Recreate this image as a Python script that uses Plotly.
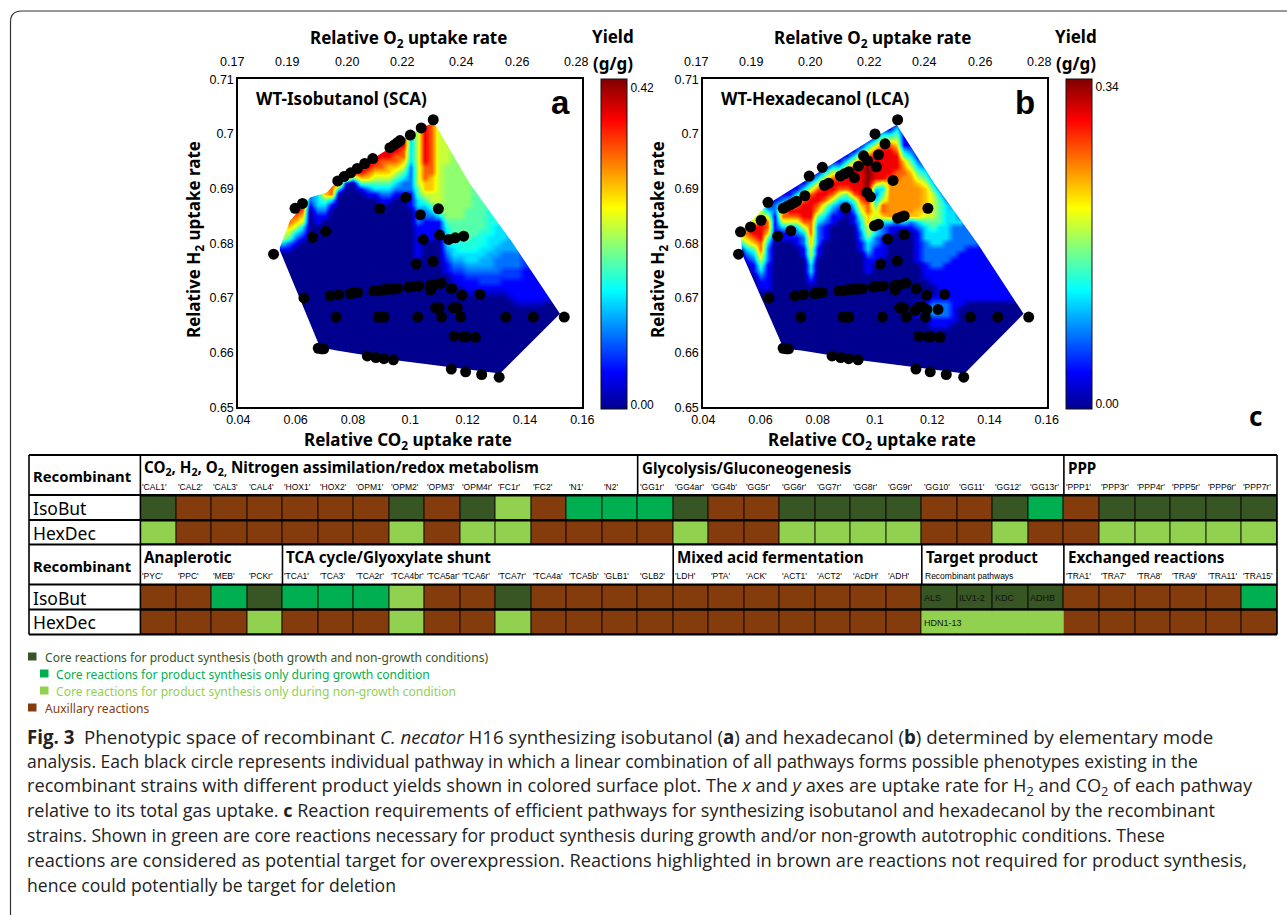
import plotly.graph_objects as go

W, H = 1287, 915
# ---------- data: pathway points (relative CO2, relative H2 uptake) ----------
COMMON_X = [.0523,.0629,.0720,.0750,.0741,.0679,.0691,.0698,.0790,.0801,.0816,.0873,.0888,.0906,.0923,.0941,.0955,
            .0994,.1010,.1029,.1069,.1086,.1108,.1071,.1144,.1180,.1243,.1026,.1109,.1176,.1333,.1429,.1537,.0888,.0900,.0909,
            .1153,.1186,.1194,.1227,.0850,.0880,.0908,.0941,.1143,.1193,.1249,.1310]
COMMON_Y = [.6780,.6700,.6704,.6706,.6665,.6608,.6607,.6607,.6708,.6709,.6710,.6713,.6713,.6715,.6716,.6716,.6717,
            .6720,.6721,.6722,.6723,.6725,.6727,.6715,.6717,.6705,.6707,.6665,.6665,.6665,.6665,.6665,.6665,.6665,.6665,.6665,
            .6630,.6629,.6629,.6628,.6594,.6591,.6589,.6587,.6570,.6565,.6560,.6555]
A_X = [.0598,.0624,.0659,.0705,.0747,.0769,.0792,.0815,.0841,.0869,.0929,.0944,.0955,.0964,.1000,.1038,.1080,
       .0894,.0984,.1035,.1098,.1045,.1102,.1134,.1157,.1186,.1020,.1079,.1088,.1101,.1150,.1164]
A_Y = [.6864,.6873,.6811,.6822,.6914,.6922,.6929,.6937,.6946,.6955,.6975,.6980,.6984,.6988,.6998,.7011,.7026,
       .6864,.6884,.6852,.6863,.6807,.6815,.6807,.6810,.6813,.6762,.6767,.6682,.6682,.6682,.6682]
B_X = [.0530,.0565,.0602,.0626,.0660,.0706,.0679,.0693,.0705,.0716,.0726,.0755,.0770,.0816,.0823,.0838,.0879,.0893,.0909,.0928,
       .0942,.0960,.0974,.1005,.1012,.1035,.1000,.1079,.0972,.0984,.1063,.0897,.1185,.1079,.1091,.1102,.0998,.1012,.1102,.1044,
       .1019,.1078,.1086,.1100,.1141,.1152,.1164,.1181,.1220]
B_Y = [.6821,.6830,.6842,.6875,.6813,.6823,.6864,.6868,.6871,.6874,.6877,.6887,.6923,.6939,.6906,.6910,.6923,.6927,.6931,.6920,
       .6941,.6960,.6951,.6940,.6962,.6982,.7000,.7026,.6893,.6885,.6915,.6865,.6864,.6846,.6848,.6850,.6832,.6835,.6816,.6808,
       .6762,.6768,.6682,.6682,.6677,.6683,.6684,.6679,.6679]
# outlines of the surfaces (clockwise from the left)
HULL_A_X = [.0545,.0580,.0624,.0650,.0708,.0747,.1000,.1038,.1083,.1208,.1359,.1522,.1313,.1144,.0964,.0743,.0685,.0545]
HULL_A_Y = [.6793,.6841,.6869,.6884,.6893,.6914,.6998,.7011,.7021,.6909,.6799,.6671,.6562,.6573,.6585,.6604,.6610,.6787]
HULL_B_X = [.0530,.0626,.1000,.1076,.1208,.1359,.1519,.1313,.1144,.0964,.0743,.0681,.0536]
HULL_B_Y = [.6821,.6872,.6994,.7017,.6909,.6799,.6671,.6562,.6573,.6585,.6604,.6607,.6780]

# surface: yield level 0-9 (letters are half steps), read per column (x from .0525, step .0025),
# from y=.703 down (step .001); the rest of each column is 0
HALF_STEPS = {"e": .5, "d": 1.5, "c": 2.5, "b": 3.5, "a": 4.5, "f": 6.5}
SURF_X = [0.0525 + 0.0025 * i for i in range(42)]
SURF_Y = [round(0.703 - 0.001 * j, 3) for j in range(49)]
LEVELS_A = ["555 55555 55555 55555 55555 310","555 55555 55555 55555 55555 310","777 77777 77777 77777 77654 210",
"888 88888 88888 88888 76532 10","888 88888 88888 88887 65321","222 22222 22222 22210","333 33333 33333 33332 11",
"666 66666 66666 66432 1","777 77777 77777 77310","888 88888 88888 30","888 88888 88881","888 88888 88840",
"888 88888 88864 10","888 88888 88764 21","888 88888 87654 31","888 88888 77654 32110","888 88888 76654 3210",
"888 88887 76543 210","888 88877 65432 210","333 33333 32222 21110","555 55555 55555 44332 22111 1110",
"888 88888 87776 65432 21111","777 77777 77766 65543 21111","555 55555 55555 555aa 31110",
"555 55555 5aaaa aaaaa a4b33 3c2d1 1","aaa aaaaa aaaaa aaaaa a4444 b33c2 d1e","aaa aaaaa aaaaa aaaaa a4444 bb3c2 d11e",
"aaa aaaaa aaaaa aaaa4 44444 bb33c 2d11e","444 44444 44444 44444 4444b bb33c 2d11e","444 44444 44444 44444 444bb b33cc 2dd1e",
"444 44444 44444 4444b bbbb3 33ccc 2dd1e","bbb bbbbb bbbbb bbbbb bb333 3cc22 2dd1e","bbb bbbbb bbbbb bbbbb b3333 cc222 dd11e",
"333 33333 33333 33333 33ccc cc222 dd111 e","ccc ccccc ccccc ccccc ccccc cc222 dd111 1e","222 22222 22222 22222 22222 22ddd 11111 1e",
"ddd ddddd ddddd ddddd ddddd ddddd 11111 1e","ddd ddddd ddddd ddddd ddddd ddddd 11111 1e","ddd ddddd ddddd ddddd ddddd ddddd 11111 1",
"111 11111 11111 11111 11111 11111 11111 1","",""]
LEVELS_B = ["777 77777 77777 77777 77775 31","666 66666 66666 66666 66676 53210","555 55555 55555 55555 55887 64321 1",
"555 55555 55555 55555 58888 77654 3211","111 11111 11111 11113 57764 32221 11110","111 11111 11111 11122 11111",
"111 11111 11111 11246 75311","111 11111 11111 11368 75311","111 11111 11111 13578 75321 1","111 11111 11111 35788 87532 211",
"111 11111 11113 57888 87776 65543 321","111 11111 11135 78876 43222 211","111 11111 11357 88754 32111","111 11111 13578 87532 11",
"111 11111 13578 75321 1","111 11111 35788 74310","111 11113 57888 87432 11","111 11135 78888 88765 43322 11",
"111 11357 89999 98877 66554 33211 1","111 13578 88886 32345 54332 2111","111 35788 88885 34577 63221 111","111 35788 8887f fffff f311",
"113 45678 8877f fffff f21","111 11134 6f7ff fffff f31","111 11123 456ff fffff 621",
"111 11111 23456 ffff6 63211 11110 00000 01110","111 11111 12345 66666 54333 22221 11000 01210",
"111 11111 11123 45555 54433 32222 11100 12321 1","111 11111 11111 23444 44333 32222 11111 12221 1",
"111 11111 11111 11233 33333 22221 11111 12221 1","111 11111 11111 11123 33222 22211 11111 11111",
"111 11111 11111 11111 23222 22111 11111 11","111 11111 11111 11111 11222 21111 11111 1","111 11111 11111 11111 11122 21111 11111 1",
"111 11111 11111 11111 11111 11111 11111 1","111 11111 11111 11111 11111 11111 11111 1","111 11111 11111 11111 11111 11111 11111 1",
"111 11111 11111 11111 11111 11111 11111 1","111 11111 11111 11111 11111 11111 11111 1","111 11111 11111 11111 11111 11111 11111","",""]

XTICKS = [.04,.06,.08,.10,.12,.14,.16]; XTEXT = ["0.04","0.06","0.08","0.1","0.12","0.14","0.16"]
YTICKS = [.65,.66,.67,.68,.69,.70,.71]; YTEXT = ["0.65","0.66","0.67","0.68","0.69","0.7","0.71"]
O2_TICKS = ["0.17","0.19","0.20","0.22","0.24","0.26","0.28"]
ZMAX_A, ZMAX_B = .432, .348
BAR_A_VALS = [.006,.42]; BAR_A_TEXT = ["0.00","0.42"]; BAR_A_MARKS = [.087,.174,.261,.348]
BAR_B_VALS = [.005,.34]; BAR_B_TEXT = ["0.00","0.34"]; BAR_B_MARKS = [.0563,.1126,.169,.225,.2815]

# table: D core both, G core growth, L core non-growth, B auxiliary
NAMES_1 = ["CAL1","CAL2","CAL3","CAL4","HOX1","HOX2","OPM1","OPM2","OPM3","OPM4r","FC1r","FC2","N1","N2","GG1r","GG4ar","GG4b","GG5r",
           "GG6r","GG7r","GG8r","GG9r","GG10","GG11","GG12","GG13r","PPP1","PPP3r","PPP4r","PPP5r","PPP6r","PPP7r"]
ISO_1 = "DBBBBBBDBDLBGGGDBBDDDDBBDGBDDDDD"
HEX_1 = "LBBBBBBLBLLBBBBLBBLLLLBBLBBLLLLL"
NAMES_2 = ["PYC","PPC","MEB","PCKr","TCA1","TCA3","TCA2r","TCA4br","TCA5ar","TCA6r","TCA7r","TCA4a","TCA5b","GLB1","GLB2",
           "LDH","PTA","ACK","ACT1","ACT2","AcDH","ADH",None,None,None,None,"TRA1","TRA7","TRA8","TRA9","TRA11","TRA15"]
ISO_2 = "BBGDGGGLBBDBBBBBBBBBBBDDDDBBBBBG"
HEX_2 = "BBBLBBBLBBLBBBBBBBBBBBLLLLBBBBBB"
CELL_COLOURS = {"B": "#843C0C", "D": "#375623", "G": "#00B050", "L": "#92D050"}
CELL_CODE = {"B": 0, "D": 1, "G": 2, "L": 3}
GROUPS_1 = [(0,"CO<sub>2</sub>, H<sub>2</sub>, O<sub>2,</sub> Nitrogen assimilation/redox metabolism"),(14,"Glycolysis/Gluconeogenesis"),(26,"PPP")]
GROUPS_2 = [(0,"Anaplerotic"),(4,"TCA cycle/Glyoxylate shunt"),(15,"Mixed acid fermentation"),(22,"Target product"),(26,"Exchanged reactions")]
TARGET_LABELS = ["ALS","ILV1-2","KDC","ADHB"]
LEGEND = [("Core reactions for product synthesis (both growth and non-growth conditions)","D",33,45,657),
          ("Core reactions for product synthesis only during growth condition","G",45,56,674),
          ("Core reactions for product synthesis only during non-growth condition","L",45,56,691),
          ("Auxillary reactions","B",33,45,708)]
CAPTION = [
 "<b>Fig. 3</b>  Phenotypic space of recombinant <i>C. necator</i> H16 synthesizing isobutanol (<b>a</b>) and hexadecanol (<b>b</b>) determined by elementary mode",
 "analysis. Each black circle represents individual pathway in which a linear combination of all pathways forms possible phenotypes existing in the",
 "recombinant strains with different product yields shown in colored surface plot. The <i>x</i> and <i>y</i> axes are uptake rate for H<sub>2</sub> and CO<sub>2</sub> of each pathway",
 "relative to its total gas uptake. <b>c</b> Reaction requirements of efficient pathways for synthesizing isobutanol and hexadecanol by the recombinant",
 "strains. Shown in green are core reactions necessary for product synthesis during growth and/or non-growth autotrophic conditions. These",
 "reactions are considered as potential target for overexpression. Reactions highlighted in brown are reactions not required for product synthesis,",
 "hence could potentially be target for deletion"]
CAPTION_SIZES = [18.7, 17.5, 18.2, 18.0, 17.6, 18.2, 17.6]
CAPTION_ROWS = [736, 761, 786, 810, 835, 860, 885]

# ---------- helpers ----------
HEAD = "Noto Sans"; ARIAL = "Liberation Sans"; NARROW = "Liberation Sans Narrow, Liberation Sans"
JET = [[0,"rgb(0,0,143)"],[.11,"rgb(0,0,255)"],[.36,"rgb(0,255,255)"],[.61,"rgb(255,255,0)"],[.875,"rgb(255,0,0)"],[1,"rgb(128,0,0)"]]
ann, shapes = [], []
def px(x): return x / W
def py(y): return 1 - y / H
def text(x, y, s, size, family=HEAD, color="black", anchor="left", rot=0):
    ann.append(dict(text=s, x=px(x), y=py(y), xref="paper", yref="paper", showarrow=False, xanchor=anchor, yanchor="middle",
                    font=dict(family=family, size=size, color=color), textangle=rot, borderpad=0, borderwidth=0, align="left"))
def line(x0, y0, x1, y1, w=1.6, color="black"):
    shapes.append(dict(type="line", xref="paper", yref="paper", x0=px(x0), y0=py(y0), x1=px(x1), y1=py(y1), line=dict(color=color, width=w)))
def rect(x0, y0, x1, y1, color, layer="above"):
    shapes.append(dict(type="rect", xref="paper", yref="paper", x0=px(x0), y0=py(y0), x1=px(x1), y1=py(y1), fillcolor=color, line_width=0, layer=layer))
def level(ch): return HALF_STEPS[ch] if ch in HALF_STEPS else int(ch)
def grid(levels, zmax):
    cols = [c.replace(" ", "").ljust(49, "0") for c in levels]
    return [[level(c[j]) / 9 * zmax for c in cols] for j in range(49)]

fig = go.Figure()
def panel(ix, left, right, levels, zmax, hx, hy, px_, py_, bar_vals, bar_text, bar_marks, bar_x, letter, title, cx, ychx, yieldx, ticks_px, title_x, letter_x):
    xa = "x" if ix == 1 else f"x{ix}"; ya = "y" if ix == 1 else f"y{ix}"
    fig.add_trace(go.Heatmap(x=SURF_X, y=SURF_Y, z=grid(levels, zmax), zsmooth="best", zmin=0, zmax=zmax, colorscale=JET, xaxis=xa, yaxis=ya, hoverinfo="skip",
        colorbar=dict(x=px(bar_x), xanchor="left", y=py(409), yanchor="bottom", len=330/H, lenmode="fraction", thickness=25.5, thicknessmode="pixels",
                      xpad=0, ypad=0, outlinewidth=1, outlinecolor="#111", ticks="", ticklabelposition="outside",
                      tickvals=bar_vals, ticktext=bar_text, tickfont=dict(family=ARIAL, size=12, color="black"))))
    for v in bar_marks:
        yy = 409 - 330 * v / zmax
        line(bar_x + 20.5, yy, bar_x + 25.5, yy, 1, "#111")
    x0, x1, y0, y1 = .04, .16, .65, .71
    mx = [x0, x1, x1, x0, x0] + hx + [hx[0], x0]
    my = [y0, y0, y1, y1, y0] + hy + [hy[0], y0]
    fig.add_trace(go.Scatter(x=mx, y=my, mode="lines", fill="toself", fillcolor="white", line=dict(width=0, color="white"), xaxis=xa, yaxis=ya, hoverinfo="skip"))
    fig.add_trace(go.Scatter(x=px_, y=py_, mode="markers", marker=dict(color="black", size=11), xaxis=xa, yaxis=ya, hoverinfo="skip"))
    ax = dict(showgrid=False, zeroline=False, showline=True, mirror=True, linecolor="black", linewidth=2, ticks="", automargin=False, tickfont=dict(family=ARIAL, size=12.5, color="black"))
    fig.update_layout({f"xaxis{'' if ix==1 else ix}": dict(ax, domain=[px(left), px(right)], range=[x0, x1], tickvals=XTICKS, ticktext=XTEXT, anchor=ya),
                       f"yaxis{'' if ix==1 else ix}": dict(ax, domain=[py(407.3), py(79.3)], range=[y0, y1], tickvals=YTICKS, ticktext=YTEXT, anchor=xa)})
    for tx, tl in zip(ticks_px, O2_TICKS):
        text(tx, 62, tl, 12.5, ARIAL, anchor="center")
    text(cx, 38, "<b>Relative O<sub>2</sub> uptake rate</b>", 17, anchor="center")
    text(cx, 440, "<b>Relative CO<sub>2</sub> uptake rate</b>", 17, anchor="center")
    text(ychx, 240, "<b>Relative H<sub>2</sub> uptake rate</b>", 17, anchor="center", rot=-90)
    text(yieldx, 37, "<b>Yield</b>", 17, anchor="center")
    text(yieldx, 63, "<b>(g/g)</b>", 17, anchor="center")
    text(title_x, 99, f"<b>{title}</b>", 17)
    text(letter_x, 103, f"<b>{letter}</b>", 33, ARIAL, anchor="center")

panel(1, 238.3, 582.3, LEVELS_A, ZMAX_A, HULL_A_X, HULL_A_Y, COMMON_X + A_X, COMMON_Y + A_Y, BAR_A_VALS, BAR_A_TEXT, BAR_A_MARKS, 601, "a", "WT-Isobutanol (SCA)",
      408, 194, 613, [232,287,347,402,461,517,576], 256, 560)
panel(2, 703.3, 1046.7, LEVELS_B, ZMAX_B, HULL_B_X, HULL_B_Y, COMMON_X + B_X, COMMON_Y + B_Y, BAR_B_VALS, BAR_B_TEXT, BAR_B_MARKS, 1065.7, "b", "WT-Hexadecanol (LCA)",
      872, 658, 1076, [696,751,810,869,924,980,1039], 721, 1025)
text(1255, 416, "<b>c</b>", 26, HEAD, anchor="center")

# ---------- table c ----------
TL, CELL0, TR = 29, 140.4, 1277
EDGES = [495.5, 520, 544.5, 584.5, 609.5, 634.5]
def codes(s): return [CELL_CODE[c] for c in s]
z_tab = [codes(ISO_1), codes(HEX_1), [None]*32, codes(ISO_2), codes(HEX_2)]
fig.update_layout(xaxis3=dict(domain=[px(CELL0), px(TR)], range=[0, 32], visible=False, anchor="y3"),
                  yaxis3=dict(domain=[py(636), py(454)], range=[636, 454], visible=False, anchor="x3"))
rect(CELL0, 495, TR, 545, "black", "below"); rect(CELL0, 584, TR, 635, "black", "below")
order = ["B", "D", "G", "L"]
tabscale = [[i/3, CELL_COLOURS[k]] for i, k in enumerate(order)]
fig.add_trace(go.Heatmap(x=[i + .5 for i in range(32)], y=EDGES, z=z_tab, xgap=1, ygap=2, zmin=0, zmax=3, colorscale=tabscale, showscale=False, xaxis="x3", yaxis="y3", hoverinfo="skip"))
fig.add_trace(go.Heatmap(x=[22, 26], y=[610.5, 633.5], z=[[3]], zmin=0, zmax=3, colorscale=tabscale, showscale=False, xaxis="x3", yaxis="y3", hoverinfo="skip"))
cw = (TR - CELL0) / 32
def colx(i): return CELL0 + i * cw
for yy in [455, 495, 520, 544.5, 584.5, 609.5, 634.5]:
    line(TL, yy, TR, yy, 1.8)
line(TL, 455, TL, 634.5); line(TR, 455, TR, 634.5); line(CELL0, 455, CELL0, 634.5)
for i, _ in GROUPS_1[1:]:
    line(colx(i), 455, colx(i), 495)
for i, _ in GROUPS_2[1:]:
    line(colx(i), 545, colx(i), 585)
for y, iy, hy in [(476, 508, 533), (566, 598, 622)]:
    text(33, y, "<b>Recombinant</b>", 14.8)
    text(33, iy, "IsoBut", 17.5); text(33, hy, "HexDec", 17.5)
for i, s in GROUPS_1: text(colx(i) + 4, 468, f"<b>{s}</b>", 15.2)
for i, s in GROUPS_2: text(colx(i) + 4, 557, f"<b>{s}</b>", 15.2)
for i, s in enumerate(NAMES_1): text(colx(i) + 2, 487, f"'{s}'", 8.5, NARROW)
for i, s in enumerate(NAMES_2):
    if s: text(colx(i) + 2, 576, f"'{s}'", 8.5, NARROW)
text(colx(22) + 3, 576, "Recombinant pathways", 8.5, NARROW)
for i, s in enumerate(TARGET_LABELS): text(colx(22 + i) + 2, 598, s, 9, NARROW, color="#111")
text(colx(22) + 2, 623, "HDN1-13", 9, NARROW, color="#111")

# ---------- legend ----------
for s, k, sx, tx, yy in LEGEND:
    rect(sx - 5, yy - 4.5, sx + 3.5, yy + 3.5, CELL_COLOURS[k])
    text(tx, yy, s, 12.1, color=CELL_COLOURS[k])

# ---------- caption ----------
for yy, s, fs in zip(CAPTION_ROWS, CAPTION, CAPTION_SIZES):
    text(27, yy, s, fs, "Open Sans", color="#222")

# outer border
r = 11
shapes.append(dict(type="path", xref="paper", yref="paper",
    path=f"M {px(W)} {py(11)} L {px(10.5+r)} {py(11)} Q {px(10.5)} {py(11)} {px(10.5)} {py(11+r)} L {px(10.5)} {py(H)}",
    line=dict(color="#333", width=1.2)))

fig.update_layout(width=W, height=H, margin=dict(l=0, r=0, t=0, b=0, pad=0, autoexpand=False), paper_bgcolor="white", plot_bgcolor="white",
                  showlegend=False, annotations=ann, shapes=shapes)
fig.write_html("out.html", config={"displayModeBar": False}, post_script="document.body.style.margin='0';document.documentElement.style.overflow='hidden';")
